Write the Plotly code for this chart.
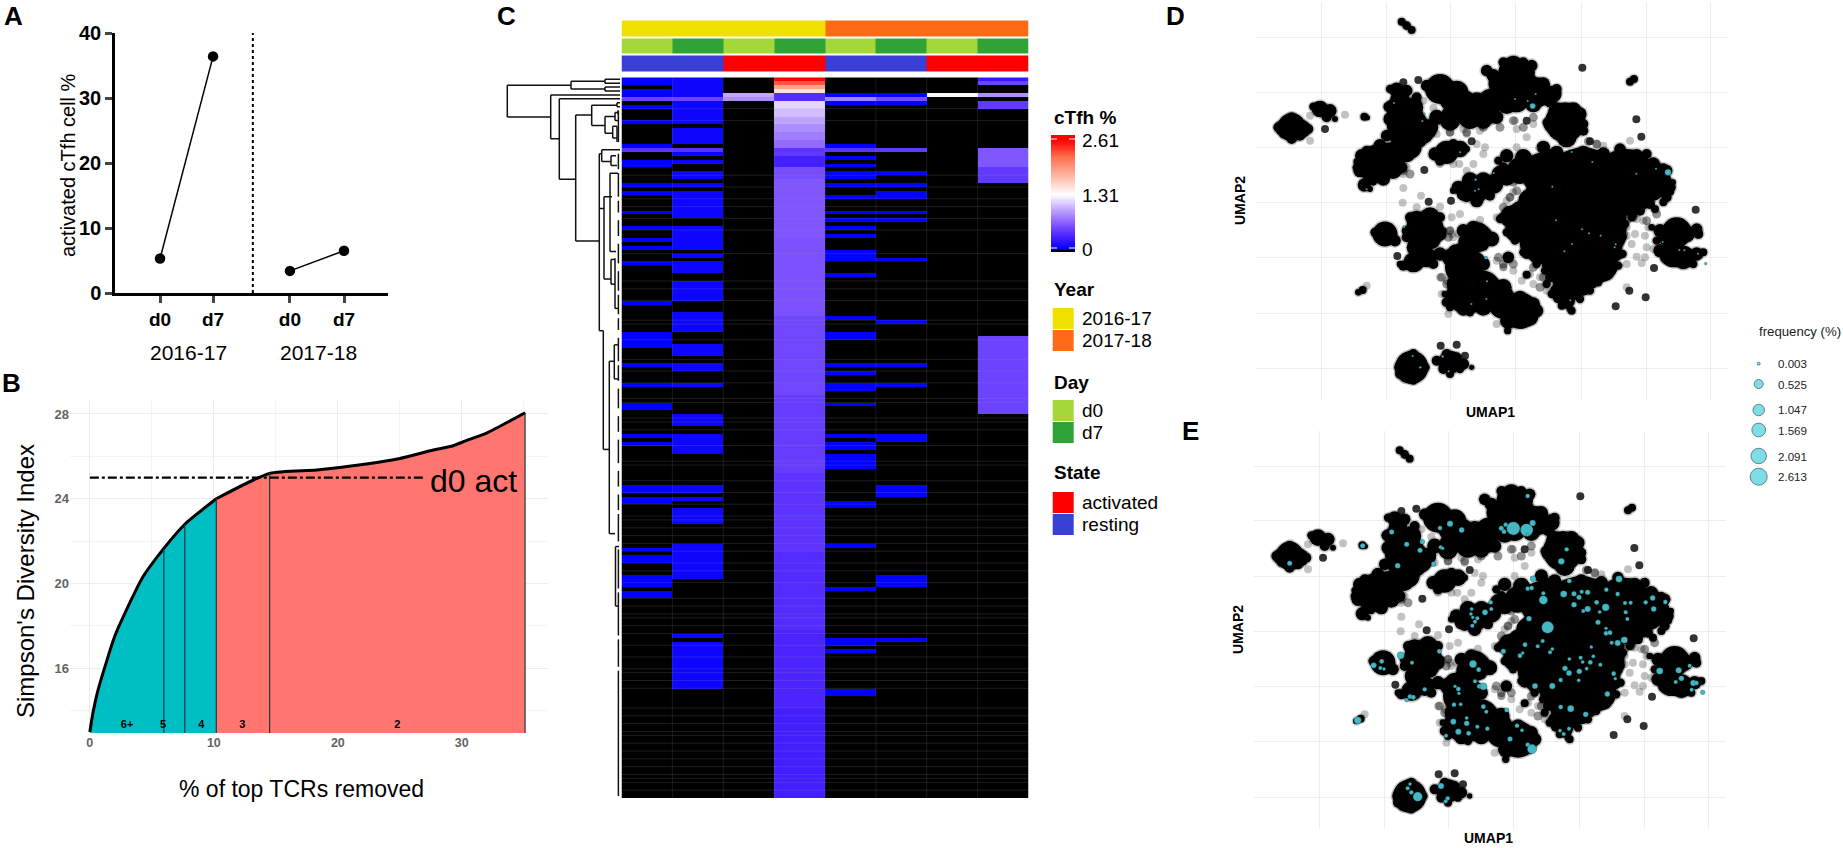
import plotly.graph_objects as go

W, H = 1843, 848

# ---------- Panel A ----------
a_positions = [1, 2, 3.45, 4.47]
a_labels = ["d0", "d7", "d0", "d7"]
a_2016 = [5.3, 36.4]
a_2017 = [3.4, 6.5]
a_divider = 2.75

# ---------- Panel B ----------
b_x_teal = [0, 0.25, 0.67, 2.0, 2.7, 4.3, 5.97, 7.66, 10.2]
b_y_teal = [13.0, 13.9, 15.0, 17.5, 18.44, 20.33, 21.66, 22.8, 24.0]
b_x_red = [10.2, 14.5, 18.3, 22.3, 25, 27.7, 29.3, 30.6, 32, 35.1]
b_y_red = [24.0, 25.2, 25.36, 25.64, 25.9, 26.3, 26.5, 26.8, 27.1, 28.06]
b_splits_x = [5.97, 7.66, 10.2, 14.5, 35.1]
b_splits_y = [21.66, 22.8, 24.0, 25.2, 28.06]
b_group_x = [3.0, 5.9, 9.0, 12.3, 24.8]
b_group_lab = ["6+", "5", "4", "3", "2"]
b_ref_y = 25.0
b_ref_end = 26.9

# ---------- Panel C ----------
years = ["2016-17", "2016-17", "2016-17", "2016-17", "2017-18", "2017-18", "2017-18", "2017-18"]
days = ["d0", "d7", "d0", "d7", "d0", "d7", "d0", "d7"]
states = ["resting", "resting", "activated", "activated", "resting", "resting", "activated", "activated"]
n_rows = 184
c1_low = [0, 1, 3, 4, 7, 11, 17, 21, 22, 27, 29, 34, 38, 41, 43, 47, 57, 65, 66, 67, 68, 73, 78, 83, 84, 91, 93,
          104, 105, 107, 108, 120, 122, 123, 127, 128, 129, 131, 132]
c2_low = [0, 1, 2, 3, 4, 6, 7, 8, 9, 10, 11, 13, 14, 15, 16, 19, 21, 24, 25, 27, 29, 30, 31, 32, 33, 34, 35, 38, 39,
          40, 41, 42, 43, 45, 47, 48, 49, 52, 53, 54, 55, 56, 60, 61, 62, 63, 64, 68, 69, 70, 73, 74, 78, 86, 87, 88,
          91, 92, 93, 94, 95, 104, 105, 107, 110, 111, 112, 113, 119, 120, 121, 122, 123, 124, 125, 126, 127, 142,
          144, 145, 146, 147, 148, 149, 150, 151, 152, 153, 154, 155]
c5_low = [4, 6, 17, 20, 22, 24, 25, 27, 30, 34, 36, 38, 40, 44, 45, 46, 50, 61, 65, 66, 73, 75, 78, 79, 83, 91, 93, 94,
          96, 97, 98, 99, 108, 109, 119, 130, 143, 144, 146, 156, 157]
c6_low = [4, 6, 24, 27, 29, 30, 34, 36, 46, 62, 73, 78, 91, 92, 104, 105, 106, 127, 128, 129, 143]
c1_special = {5: 0.5, 18: 0.42}
c2_special = {5: 0.5, 18: 0.4}
c3_special = {4: 0.95, 5: 0.85}
c5_special = {5: 0.8, 18: 0.42}
c6_special = {5: 0.55, 18: 0.45}
c7_special = {4: 1.28}
c8_special = {0: 0.25, 1: 0.5, 4: 0.85, 6: 0.45, 7: 0.45, 18: 0.6, 19: 0.6, 20: 0.6, 21: 0.6, 22: 0.6,
              23: 0.45, 24: 0.45, 25: 0.45, 26: 0.45}
c8_block = [66, 67, 68, 69, 70, 71, 72, 73, 74, 75, 76, 77, 78, 79, 80, 81, 82, 83, 84, 85]
c8_block_value = 0.5
c4_run_values = [2.61, 2.3, 1.9, 1.5, 0.38, 1.15, 1.05, 0.95, 0.85, 0.78, 0.7, 0.42, 0.45, 0.3, 0.55, 0.6, 0.58, 0.52, 0.47, 0.42, 0.38, 0.34, 0.3]
c4_run_lengths = [1, 1, 1, 1, 2, 2, 2, 2, 2, 2, 2, 1, 1, 3, 3, 15, 20, 20, 20, 20, 20, 20, 23]
row_hairlines = [8, 11, 25, 28, 31, 33, 36, 39, 45, 52, 54, 57, 62, 63, 67, 72, 75, 78, 82, 83, 87, 88, 90, 94, 98, 99,
                 103, 106, 109, 112, 113, 115, 117, 119, 121, 124, 126, 129, 133, 135, 137, 138, 140, 142, 145, 148,
                 151, 152, 154, 156, 161, 163, 165, 167, 168, 170, 172, 174, 176, 178, 179, 180, 182]

# dendrogram: height of each vertical and its row span, row of each horizontal and its height span
den_v_h = [112.7, 49, 15, 15, 69.3, 60.7, 44.3, 28.3, 3, 15, 5, 7.3, 20.7, 18.3, 9, 10, 16, 9, 5, 16.7, 10.7, 5.7, 4.5, 2, 3]
den_v_a = [1.5, 0.5, 0, 2, 4, 5, 9.1, 6.6, 6, 9.5, 8.5, 12, 19, 18, 19.5, 24, 30, 46, 45.7, 64.2, 72, 67.8, 119.3, 8, 12]
den_v_b = [9.6, 2.5, 1, 3, 15.2, 25.5, 41.3, 11.8, 7, 13.8, 10.5, 15, 64.2, 21, 22, 44, 51, 52.3, 58.5, 94.5, 116, 76.5, 134.5, 9, 16]
den_h_r = [1.5, 9.6, 0.5, 2.5, 0, 1, 2, 3, 4, 15.2, 5, 25.5, 9.1, 41.3, 6.6, 11.8, 6, 7, 9.5, 13.8, 8.5, 10.5, 12, 15,
           19, 64.2, 18, 21, 19.5, 22, 24, 44, 33, 30, 51, 46, 52.3, 58.5, 94.5, 72, 116, 67.8, 76.5, 119.3, 134.5]
den_h_a = [112.7, 112.7, 49, 49, 15, 15, 15, 15, 69.3, 69.3, 60.7, 60.7, 44.3, 44.3, 28.3, 28.3, 3, 3, 15, 15, 5, 5, 7.3, 7.3,
           20.7, 20.7, 18.3, 18.3, 9, 9, 10, 10, 20.7, 16, 16, 9, 9, 5, 16.7, 10.7, 10.7, 5.7, 5.7, 4.5, 4.5]
den_h_b = [49, 69.3, 15, 15, 0, 0, 0, 0, 0, 60.7, 0, 44.3, 28.3, 20.7, 3, 15, 0, 0, 5, 7.3, 2, 2, 3, 3,
           18.3, 16.7, 0, 9, 4, 3, 2, 4, 16, 8, 9, 5, 5, 2, 10, 5.7, 5, 1, 1, 1, 1]
den_leaf_from = [8, 19, 24, 31, 36, 42, 49, 55, 61, 66, 73, 79, 86, 92, 100, 106, 111, 120, 131, 143, 151]
den_leaf_to = [16, 23, 30, 34, 40, 47, 54, 60, 64, 72, 77, 84, 90, 98, 104, 110, 118, 130, 142, 150, 183]

# ---------- Panels D / E ----------
blob_u1 = [455, 470, 485,
           125, 100, 155, 85, 125, 125, 175,
           210, 190, 240, 230, 255,
           343, 352,
           470, 430, 415, 440, 420, 470, 500, 410, 450, 520, 480, 540,
           570, 530, 620, 650, 600,
           600, 660, 720,
           785, 710, 730, 790, 845, 830, 790, 860, 910, 720, 770, 850, 900,
           945, 990, 905, 1000, 950,
           380, 335, 330, 320, 430, 400, 360, 440, 480, 510,
           343, 360,
           590, 555, 630, 570, 610, 650,
           680, 625, 730, 650, 720,
           770, 820, 880, 920, 1000, 1060, 1110, 1160, 1210, 1250, 1260, 1250,
           880, 1000, 1130, 1210, 810, 900, 830, 1000, 780, 880, 1060, 1050, 960, 960, 1010, 900,
           1280, 1230, 1340, 1270, 1340, 1360, 1230, 1330, 1300,
           405, 375, 435,
           525, 480, 570, 500,
           490, 460, 530, 550,
           680, 640, 725, 640,
           640, 650, 600, 600, 700, 760, 810, 775, 773, 860, 700, 740, 640, 660,
           950, 925,
           485, 450, 490, 525, 490,
           600, 560, 640, 665, 600,
           325, 338,
           1140, 1152,
           775, 830]
blob_u2 = [63, 75, 88,
           380, 382, 385, 380, 352, 415, 385,
           325, 318, 330, 350, 355,
           348, 351,
           370, 320, 318, 268, 265, 270, 290, 405, 410, 400, 420, 395,
           265, 255, 275, 290, 300,
           360, 350, 340,
           215, 210, 225, 195, 195, 215, 260, 275, 280, 300, 310, 310, 300,
           365, 340, 370, 390, 410,
           490, 465, 510, 483, 510, 535, 530, 470, 440, 420,
           553, 565,
           455, 460, 445, 480, 430, 445,
           565, 560, 550, 590, 585,
           465, 470, 440, 455, 455, 460, 445, 465, 490, 510, 560, 590,
           520, 550, 530, 540, 510, 600, 660, 680, 650, 720, 720, 790, 790, 850, 830, 790,
           695, 690, 685, 760, 760, 755, 750, 790, 770,
           700, 695, 720,
           690, 650, 650, 740,
           785, 795, 770, 790,
           710, 690, 715, 740,
           800, 880, 885, 920, 860, 910, 930, 960, 990, 930, 920, 880, 925, 935,
           900, 890,
           1100, 1100, 1060, 1100, 1140,
           1085, 1080, 1090, 1100, 1120,
           875, 868,
           243, 235,
           770, 822]
blob_size = [24, 26, 24,
             85, 50, 55, 30, 35, 30, 30,
             50, 25, 40, 30, 18,
             24, 16,
             120, 50, 30, 45, 25, 35, 30, 35, 60, 60, 50, 35,
             90, 35, 70, 40, 60,
             60, 70, 60,
             80, 35, 40, 60, 35, 50, 110, 90, 50, 70, 60, 50, 40,
             120, 40, 50, 30, 60,
             115, 40, 40, 20, 50, 40, 40, 60, 70, 40,
             40, 18,
             70, 40, 50, 30, 30, 20,
             80, 40, 60, 30, 30,
             40, 50, 40, 40, 40, 40, 35, 40, 40, 35, 35, 30,
             130, 220, 170, 90, 80, 160, 130, 260, 60, 140, 120, 110, 130, 100, 60, 50,
             90, 40, 35, 80, 40, 24, 40, 25, 70,
             75, 28, 35,
             115, 30, 30, 60,
             60, 30, 60, 30,
             90, 40, 45, 40,
             110, 120, 30, 24, 100, 90, 110, 50, 22, 40, 50, 70, 40, 25,
             50, 35,
             100, 35, 30, 28, 25,
             70, 30, 35, 16, 24,
             20, 24,
             24, 24,
             35, 24]
fill_u1 = [450, 490, 420, 500, 540, 470,
           560, 600, 640, 690, 700, 740, 680, 640,
           750, 800, 740, 830, 880, 920, 790, 760, 820,
           450, 420, 470, 350, 390, 455, 320, 370,
           660, 700, 640, 680, 610, 750, 770,
           830, 900, 960, 1060, 1130, 1200, 1240, 1180, 1130, 1060, 1210, 1090, 840, 900, 1160, 1240, 1200, 1150,
           780, 760, 800, 850, 930, 940, 1070, 1100, 1110, 1100, 1080, 1030, 990, 830, 860, 1010,
           950, 920, 1000, 1030, 960, 925, 900, 1060,
           1250, 1310, 1220, 1250, 1300, 1345, 1205,
           470, 545, 540, 500, 570, 580, 470,
           500, 570, 450, 510,
           600, 620, 670, 620, 680, 700, 730, 760, 590, 625, 680, 840, 810, 850, 790, 735, 770, 585, 650,
           670, 705, 700, 670, 640,
           920, 970, 1000, 960, 920, 890,
           470, 510, 465, 450, 590, 620, 580, 630,
           100, 150, 125]
fill_u2 = [300, 320, 355, 380, 380, 410,
           350, 340, 340, 320, 360, 350, 300, 310,
           280, 300, 250, 250, 250, 265, 190, 185, 185,
           440, 450, 460, 450, 435, 500, 500, 545,
           540, 540, 580, 600, 570, 520, 530,
           490, 480, 490, 500, 480, 520, 540, 590, 610, 620, 570, 570, 600, 540, 520, 575, 610, 640,
           640, 650, 690, 730, 640, 720, 680, 650, 720, 760, 790, 780, 760, 760, 770, 830,
           830, 870, 860, 850, 925, 820, 830, 810,
           710, 700, 720, 770, 790, 700, 680,
           690, 720, 650, 660, 700, 690, 710,
           790, 760, 790, 760,
           770, 760, 830, 850, 780, 790, 850, 860, 905, 900, 900, 950, 890, 910, 945, 920, 880, 880, 800,
           680, 700, 735, 745, 720,
           330, 330, 370, 400, 400, 365,
           1080, 1120, 1130, 1120, 1060, 1070, 1105, 1105,
           400, 405, 370]
fill_size = [60, 60, 40, 80, 50, 70,
             45, 50, 60, 60, 50, 40, 50, 50,
             70, 70, 50, 70, 40, 30, 45, 30, 30,
             60, 50, 50, 30, 40, 35, 25, 20,
             50, 50, 40, 40, 20, 50, 50,
             60, 70, 80, 90, 60, 90, 50, 70, 70, 130, 60, 100, 70, 110, 100, 30, 30, 25,
             50, 30, 70, 80, 150, 120, 90, 50, 30, 40, 30, 90, 130, 30, 40, 50,
             90, 40, 50, 25, 20, 50, 30, 40,
             50, 50, 25, 40, 30, 30, 20,
             30, 50, 60, 60, 40, 20, 30,
             40, 40, 20, 40,
             50, 60, 70, 60, 50, 40, 40, 50, 30, 50, 70, 50, 40, 40, 60, 30, 40, 20, 50,
             40, 40, 30, 40, 30,
             50, 50, 30, 30, 30, 25,
             40, 30, 30, 30, 30, 30, 30, 25,
             25, 30, 60]
edge_u1 = [745, 760, 1190, 1240, 1268, 1262, 1240, 1215, 1170, 1145, 1125, 1118, 1118, 1105, 1075, 1045, 1020, 990, 965, 935, 905, 890, 885, 860, 820, 795, 770, 750,
           1000, 1100, 1170, 1220, 1150, 1100, 1040, 950, 860, 820, 900, 1000, 1090]
edge_u2 = [480, 500, 460, 500, 545, 575, 605, 625, 630, 650, 670, 710, 760, 795, 825, 845, 870, 895, 930, 915, 880, 850, 810, 790, 755, 720, 695, 655,
           480, 480, 500, 560, 590, 640, 560, 600, 640, 700, 760, 730, 740]
edge_size = [25, 30, 30, 25, 20, 20, 24, 24, 30, 25, 25, 25, 25, 25, 25, 25, 25, 25, 24, 24, 25, 25, 25, 25, 25, 25, 25, 25,
             60, 60, 60, 40, 60, 60, 90, 90, 60, 40, 60, 80, 50]
mid_u1 = [600, 650, 700, 750, 790, 820, 850, 760, 780, 800, 790, 1150, 1190, 1130, 1220, 600, 595, 745, 760, 790, 850, 880, 870, 575, 590, 1120, 480, 460, 1040, 1015]
mid_u2 = [395, 395, 380, 380, 360, 380, 350, 620, 590, 570, 545, 650, 660, 660, 640, 690, 710, 770, 790, 790, 800, 830, 860, 830, 850, 700, 520, 510, 430, 422]
dark_u1 = [997, 1159, 1174, 1337, 1212, 1138, 1187, 1097, 536, 523, 603, 460, 505, 225, 572, 620, 645, 442, 1020, 830, 665]
dark_u2 = [201, 356, 408, 627, 802, 870, 890, 917, 603, 508, 600, 245, 238, 385, 1035, 1032, 1065, 766, 422, 360, 422]
gray_u1 = [285, 180, 180, 350, 460, 458, 513, 500, 570, 630, 605, 690, 650, 628, 670, 700, 680, 705, 800, 795, 850, 800, 830, 1140, 1040, 1060,
           1130, 1175, 1160, 1185, 1145, 1190, 1130, 1180, 1120, 1160, 1185, 1130, 1155, 1210, 1130, 740, 595, 575, 570, 590, 740, 760, 840, 870,
           890, 600, 610, 740, 770, 790, 780, 590, 550, 520, 640, 600, 560, 650, 690, 470, 460, 570, 610, 605, 625, 760, 790, 815, 850, 1195]
gray_u2 = [342, 345, 420, 855, 562, 606, 585, 620, 618, 640, 650, 658, 510, 490, 490, 460, 430, 440, 440, 360, 370, 385, 410, 420, 430, 435,
           790, 787, 768, 770, 730, 740, 680, 660, 680, 655, 705, 705, 700, 745, 860, 970, 940, 880, 830, 840, 780, 800, 820, 830,
           870, 690, 710, 650, 600, 575, 590, 315, 322, 300, 385, 395, 400, 400, 390, 500, 520, 490, 490, 700, 700, 800, 810, 840, 850, 680]
d_u1 = [432, 523, 517, 630, 350, 795, 833, 857, 860, 965, 1027, 1159, 1218, 731, 677, 675, 686, 907, 918, 996, 1017, 1052, 966, 943, 1097, 1094,
        1238, 1288, 1303, 1344, 1367, 708, 711, 709, 664, 961, 462, 488, 578, 511, 596, 848, 1254]
d_u2 = [307, 339, 361, 455, 566, 295, 301, 280, 443, 454, 484, 519, 504, 517, 537, 570, 566, 558, 659, 686, 698, 705, 730, 752, 731, 740,
        724, 748, 749, 759, 789, 771, 842, 895, 910, 899, 678, 1066, 1067, 1100, 1112, 316, 515]
d_size = [6, 6, 6, 6, 6, 6, 6, 6, 6, 6, 6, 6, 6, 6, 7, 6, 6, 6, 6, 6, 6, 6, 6, 6, 6, 6,
          6, 6, 6, 6, 8, 10, 6, 6, 6, 6, 7, 6, 7, 7, 6, 17, 19]
e_u1 = [119, 338, 425, 470, 517, 510, 443, 551, 600, 570, 635, 572, 578, 754, 767, 762, 790, 830, 848, 833, 833, 950, 934, 849, 958, 833, 845, 880, 880, 941,
        972, 995, 1013, 987, 972, 1040, 1067, 1069, 1103, 1107, 1125, 1142, 1127, 1132, 1187, 1208, 1211, 1246, 1049, 1000, 1013, 1044, 1068, 1068, 1080, 1085, 1103, 1123, 893, 837,
        722, 724, 705, 665, 663, 668, 682, 675, 667, 825, 878, 863, 810, 818, 907, 900, 760, 1024, 958, 992, 998, 1030, 1021, 1051, 1010, 988, 945, 957, 986, 932,
        907, 855, 1091, 1096, 1072, 932, 962, 1007, 770, 1229, 1286, 1319, 1294, 1277, 1330, 1339, 1325, 1358, 568, 486, 452, 395, 371, 391, 402, 669, 686, 675, 688, 700,
        524, 470, 480, 490, 615, 625, 627, 612, 632, 700, 709, 650, 650, 610, 682, 712, 625, 588, 656, 801, 816, 780, 930, 957, 941, 833, 846, 323, 473, 484, 503, 480, 573, 593, 587]
e_u2 = [398, 345, 304, 341, 333, 359, 405, 400, 279, 292, 298, 350, 353, 293, 282, 303, 293, 298, 277, 196, 312, 356, 392, 444, 451, 474, 472, 488, 508, 490,
        489, 483, 485, 500, 522, 515, 530, 477, 490, 445, 517, 516, 545, 565, 515, 502, 535, 514, 544, 541, 535, 575, 593, 608, 606, 636, 637, 628, 590, 564,
        515, 535, 545, 535, 550, 560, 563, 573, 585, 642, 631, 647, 675, 667, 655, 665, 662, 649, 685, 681, 694, 677, 695, 702, 714, 722, 713, 727, 749, 748,
        766, 766, 729, 744, 790, 829, 834, 851, 838, 721, 719, 705, 743, 754, 757, 757, 777, 785, 662, 696, 674, 692, 704, 712, 715, 700, 717, 752, 767, 767,
        776, 808, 798, 800, 767, 775, 788, 822, 821, 828, 843, 862, 878, 873, 888, 894, 903, 915, 908, 885, 899, 925, 900, 894, 910, 942, 955, 869, 1073, 1085, 1098, 1060, 1066, 1103, 1112]
e_size = [15, 15, 15, 15, 15, 15, 16, 15, 18, 13, 16, 12, 10, 15, 13, 14, 40, 38, 18, 13, 10, 13, 19, 18, 14, 13, 13, 12, 26, 20,
          15, 12, 15, 15, 16, 14, 22, 13, 13, 20, 12, 12, 12, 12, 13, 16, 16, 13, 11, 12, 18, 15, 10, 14, 14, 12, 18, 20, 36, 16,
          13, 12, 17, 11, 11, 10, 12, 12, 12, 14, 12, 12, 14, 10, 11, 12, 15, 10, 11, 12, 11, 11, 14, 12, 11, 16, 16, 17, 11, 13,
          18, 17, 14, 10, 16, 14, 20, 16, 14, 20, 18, 12, 16, 12, 18, 14, 12, 14, 14, 12, 22, 14, 17, 12, 10, 22, 14, 12, 14, 22,
          13, 12, 14, 14, 10, 14, 10, 13, 11, 14, 12, 11, 16, 17, 12, 13, 18, 12, 14, 13, 11, 15, 11, 12, 12, 13, 28, 22, 12, 13, 28, 10, 18, 13, 12]
e_shift = (6, 4)
grid_u1 = [18, 214, 408, 602, 797, 993, 1188, 1381]
grid_u2 = [110, 274, 440, 606, 771, 937, 1103]
freq_values = ["0.003", "0.525", "1.047", "1.569", "2.091", "2.613"]
freq_px = [363.7, 384, 410, 430, 456, 476.7]
freq_d = [3, 9, 11.5, 13.7, 15.5, 17]

FONT = "Liberation Sans"


def fx(px):
    return px / W


def fy(px):
    return 1 - px / H


def dom_x(a, b):
    return [fx(a), fx(b)]


def dom_y(top, bottom):
    return [fy(bottom), fy(top)]


fig = go.Figure()
anns = []
shapes = []


def text(x, y, s, size, bold=False, color="black", anchor="left", angle=0):
    anns.append(dict(x=fx(x), y=fy(y), xref="paper", yref="paper", text=f"<b>{s}</b>" if bold else s, showarrow=False,
                     xanchor=anchor, yanchor="middle", textangle=angle, font=dict(family=FONT, size=size, color=color)))


def rect(x0, y0, x1, y1, color):
    shapes.append(dict(type="rect", xref="paper", yref="paper", x0=fx(x0), x1=fx(x1), y0=fy(y0), y1=fy(y1),
                       fillcolor=color, line=dict(width=0)))


hidden = dict(visible=False, showgrid=False, zeroline=False)
layout_axes = {}

# ---------- A ----------
for xs, ys in ((a_positions[:2], a_2016), (a_positions[2:], a_2017)):
    fig.add_trace(go.Scatter(x=xs, y=ys, mode="lines+markers", xaxis="x", yaxis="y", line=dict(color="black", width=1.5),
                             marker=dict(color="black", size=10.5)))
fig.add_trace(go.Scatter(x=[a_divider, a_divider], y=[0, 40], mode="lines", xaxis="x", yaxis="y",
                         line=dict(color="black", width=2, dash="dot")))
layout_axes["xaxis"] = dict(domain=dom_x(115, 388), range=[0.15, 5.3], anchor="y", tickvals=a_positions, ticktext=a_labels,
                            showline=True, linecolor="black", linewidth=2.5, ticks="outside", ticklen=7, tickwidth=2.5,
                            showgrid=False, zeroline=False, tickfont=dict(family=FONT, size=19, weight="bold", color="black"))
layout_axes["yaxis"] = dict(domain=dom_y(33, 293), range=[0, 40], anchor="x", tickvals=[0, 10, 20, 30, 40],
                            showline=True, linecolor="black", linewidth=2.5, ticks="outside", ticklen=7, tickwidth=2.5,
                            showgrid=False, zeroline=False, tickfont=dict(family=FONT, size=20, weight="bold", color="black"))
text(188, 352, "2016-17", 21, anchor="center")
text(318, 352, "2017-18", 21, anchor="center")
text(68, 165, "activated cTfh cell %", 20, anchor="center", angle=-90)

# ---------- B ----------
curve_line = dict(color="black", width=3, shape="spline", smoothing=0.6)
fig.add_trace(go.Scatter(x=b_x_teal, y=b_y_teal, mode="lines", fill="tozeroy", fillcolor="#00bfc4", xaxis="x2", yaxis="y2", line=curve_line))
fig.add_trace(go.Scatter(x=b_x_red, y=b_y_red, mode="lines", fill="tozeroy", fillcolor="#ff7570", xaxis="x2", yaxis="y2", line=curve_line))
split_x, split_y = [], []
for sx, sy in zip(b_splits_x, b_splits_y):
    split_x += [sx, sx, None]
    split_y += [0, sy, None]
fig.add_trace(go.Scatter(x=split_x, y=split_y, mode="lines", xaxis="x2", yaxis="y2", line=dict(color="#1c3a40", width=1.2)))
fig.add_trace(go.Scatter(x=[0, b_ref_end], y=[b_ref_y, b_ref_y], mode="lines", xaxis="x2", yaxis="y2",
                         line=dict(color="black", width=2.2, dash="dashdot")))
fig.add_trace(go.Scatter(x=b_group_x, y=[13.3] * 5, mode="text", text=b_group_lab, xaxis="x2", yaxis="y2",
                         textfont=dict(family=FONT, size=11, color="black", weight="bold")))
grid = "#ececec"
layout_axes["xaxis2"] = dict(domain=dom_x(70, 548), range=[-1.6, 36.95], anchor="y2", tickvals=[0, 10, 20, 30],
                             minor=dict(tickvals=[5, 15, 25, 35], showgrid=True, gridcolor="#f4f4f4", gridwidth=1),
                             showgrid=True, gridcolor=grid, gridwidth=1, zeroline=False, ticks="",
                             tickfont=dict(family=FONT, size=12.5, weight="bold", color="#636363"))
layout_axes["yaxis2"] = dict(domain=dom_y(400, 733), range=[12.95, 28.66], anchor="x2", tickvals=[16, 20, 24, 28],
                             minor=dict(tickvals=[14, 18, 22, 26], showgrid=True, gridcolor="#f4f4f4", gridwidth=1),
                             showgrid=True, gridcolor=grid, gridwidth=1, zeroline=False, ticks="",
                             tickfont=dict(family=FONT, size=13, weight="bold", color="#636363"))
text(428, 481, "d0 act", 32)
text(25, 581, "Simpson's Diversity Index", 24, anchor="center", angle=-90)
text(301, 789, "% of top TCRs removed", 23, anchor="center")

# ---------- C ----------
rows = [[0.0] * 8 for _ in range(n_rows)]
for col, low, level in ((0, c1_low, 0.02), (1, c2_low, 0.07), (4, c5_low, 0.02), (5, c6_low, 0.03)):
    for r in low:
        rows[r][col] = level
for col, spec in ((0, c1_special), (1, c2_special), (2, c3_special), (4, c5_special), (5, c6_special), (6, c7_special), (7, c8_special)):
    for r, v in spec.items():
        rows[r][col] = v
for r in c8_block:
    rows[r][7] = c8_block_value
pos = 0
for v, n in zip(c4_run_values, c4_run_lengths):
    for r in range(pos, pos + n):
        rows[r][3] = v
    pos += n
ZMIN, ZMAX = -0.05, 2.73


def nrm(v):
    return (v - ZMIN) / (ZMAX - ZMIN)


cscale = [[0, "#000000"], [nrm(0.001), "#000000"], [nrm(0.015), "#0000ff"], [nrm(0.33), "#4a22ff"], [nrm(0.65), "#8a60ff"],
          [nrm(1.0), "#c8b0ff"], [nrm(1.31), "#ffffff"], [nrm(1.7), "#ffc0b0"], [nrm(2.2), "#ff7050"], [nrm(2.61), "#ff0000"], [1, "#ff0000"]]
fig.add_trace(go.Heatmap(z=rows, x=list(range(8)), y=list(range(n_rows)), xaxis="x3", yaxis="y3", zmin=ZMIN, zmax=ZMAX, colorscale=cscale,
                         showscale=False, hoverinfo="skip"))
hx, hy = [], []
for r in row_hairlines:
    hx += [-0.5, 7.5, None]
    hy += [r - 0.5, r - 0.5, None]
fig.add_trace(go.Scatter(x=hx, y=hy, mode="lines", xaxis="x3", yaxis="y3", line=dict(color="rgba(150,150,150,0.28)", width=0.7)))
vx, vy = [], []
for c in range(1, 8):
    vx += [c - 0.5, c - 0.5, None]
    vy += [-0.5, n_rows - 0.5, None]
fig.add_trace(go.Scatter(x=vx, y=vy, mode="lines", xaxis="x3", yaxis="y3", line=dict(color="rgba(150,150,150,0.22)", width=0.8)))
layout_axes["xaxis3"] = dict(domain=dom_x(621.5, 1028.5), range=[-0.5, 7.5], anchor="y3", **hidden)
layout_axes["yaxis3"] = dict(domain=dom_y(77.33, 798), range=[n_rows - 0.5, -0.5], anchor="x3", **hidden)

year_codes = [{"2016-17": 0, "2017-18": 1}[v] for v in years]
day_codes = [{"d0": 2, "d7": 3}[v] for v in days]
state_codes = [{"activated": 4, "resting": 5}[v] for v in states]
bar_colors = ["#f0e000", "#ff6a14", "#a3d838", "#2fa336", "#ff0000", "#3a3fd8"]
bar_scale = []
for i, c in enumerate(bar_colors):
    bar_scale += [[i / 6, c], [(i + 1) / 6, c]]
fig.add_trace(go.Heatmap(z=[year_codes, day_codes, state_codes], xaxis="x4", yaxis="y4", zmin=0, zmax=6, colorscale=bar_scale, showscale=False,
                         ygap=2, hoverinfo="skip"))
layout_axes["xaxis4"] = dict(domain=dom_x(621.5, 1028.5), range=[-0.5, 7.5], anchor="y4", **hidden)
layout_axes["yaxis4"] = dict(domain=dom_y(19.5, 72.5), range=[2.5, -0.5], anchor="x4", **hidden)

dx, dy = [], []
for h, a, b in zip(den_v_h, den_v_a, den_v_b):
    dx += [h, h, None]
    dy += [a, b, None]
for r, a, b in zip(den_h_r, den_h_a, den_h_b):
    dx += [a, b, None]
    dy += [r, r, None]
for a, b in zip(den_leaf_from, den_leaf_to):
    dx += [1.6, 1.6, None]
    dy += [a, b, None]
fig.add_trace(go.Scatter(x=dx, y=dy, mode="lines", xaxis="x5", yaxis="y5", line=dict(color="#111111", width=1.5)))
layout_axes["xaxis5"] = dict(domain=dom_x(500, 621), range=[120, -1], anchor="y5", **hidden)
layout_axes["yaxis5"] = dict(domain=dom_y(77.33, 798), range=[n_rows - 0.5, -0.5], anchor="x5", **hidden)

# colour key for C, drawn with the same colour scale
key_levels = [[ZMIN + i * (ZMAX - ZMIN) / 139] for i in range(140)]
fig.add_trace(go.Heatmap(z=key_levels, y=[row[0] for row in key_levels], xaxis="x8", yaxis="y8", zmin=ZMIN, zmax=ZMAX, colorscale=cscale,
                         showscale=False, hoverinfo="skip"))
layout_axes["xaxis8"] = dict(domain=dom_x(1051, 1075), anchor="y8", **hidden)
layout_axes["yaxis8"] = dict(domain=dom_y(135, 252), range=[ZMIN, ZMAX], anchor="x8", **hidden)
for lab, py in (("2.61", 140), ("1.31", 195), ("0", 250)):
    text(1080, py, lab, 19)
for py in (139, 248):
    rect(1051, py - 0.5, 1057, py + 0.5, "white")
    rect(1069, py - 0.5, 1075, py + 0.5, "white")

text(1052, 118, "cTfh %", 19, bold=True)
for title, ty, labels, colors, y0s in (
    ("Year", 289, ["2016-17", "2017-18"], bar_colors[:2], [308, 330]),
    ("Day", 382, ["d0", "d7"], bar_colors[2:4], [400, 422]),
    ("State", 473, ["activated", "resting"], bar_colors[4:], [492, 514]),
):
    text(1052, ty, title, 19, bold=True)
    for lab, col, y0 in zip(labels, colors, y0s):
        rect(1052.7, y0, 1073.7, y0 + 21, col)
        text(1080, y0 + 10.5, lab, 19)

# ---------- D / E ----------
all_u1 = blob_u1 + fill_u1 + edge_u1
all_u2 = blob_u2 + fill_u2 + edge_u2
all_size = blob_size + fill_size + edge_size
for xa, ya, left, top, tu1, tu2, ts, tcol in (
    ("x6", "y6", 1256, 2, d_u1, d_u2, d_size, "#45b8c4"),
    ("x7", "y7", 1254, 430.7, [v + e_shift[0] for v in e_u1], [v + e_shift[1] for v in e_u2], e_size, "#45b8c4"),
):
    fig.add_trace(go.Scatter(x=gray_u1, y=gray_u2, mode="markers", xaxis=xa, yaxis=ya, marker=dict(color="black", size=8, opacity=0.24, line=dict(width=0))))
    fig.add_trace(go.Scatter(x=mid_u1, y=mid_u2, mode="markers", xaxis=xa, yaxis=ya, marker=dict(color="black", size=9, opacity=0.42, line=dict(width=0))))
    fig.add_trace(go.Scatter(x=all_u1, y=all_u2, mode="markers", xaxis=xa, yaxis=ya,
                             marker=dict(color="black", size=[s / 3 + 3 for s in all_size], opacity=0.2, line=dict(width=0))))
    fig.add_trace(go.Scatter(x=dark_u1, y=dark_u2, mode="markers", xaxis=xa, yaxis=ya, marker=dict(color="black", size=8, opacity=0.8, line=dict(width=0))))
    fig.add_trace(go.Scatter(x=all_u1, y=all_u2, mode="markers", xaxis=xa, yaxis=ya,
                             marker=dict(color="black", size=[s / 3 for s in all_size], opacity=1, line=dict(width=0))))
    fig.add_trace(go.Scatter(x=tu1, y=tu2, mode="markers", xaxis=xa, yaxis=ya,
                             marker=dict(color=tcol, size=[s / 3 for s in ts], opacity=1, line=dict(width=0.3, color="#0a3a40"))))
    axis_n = xa[1:]
    common = dict(showgrid=True, gridcolor="#eeeeee", gridwidth=1.3, zeroline=False, showticklabels=False, ticks="")
    layout_axes["xaxis" + axis_n] = dict(domain=dom_x(left, left + 472), range=[18, 1434], anchor=ya, tickvals=grid_u1, **common)
    layout_axes["yaxis" + axis_n] = dict(domain=dom_y(top, top + 398), range=[1198, 4], anchor=xa, tickvals=grid_u2, **common)
text(1240, 201, "UMAP2", 14, bold=True, anchor="center", angle=-90)
text(1238, 630, "UMAP2", 14, bold=True, anchor="center", angle=-90)
text(1490.7, 412, "UMAP1", 14, bold=True, anchor="center")
text(1488, 838, "UMAP1", 14, bold=True, anchor="center")

# frequency legend
text(1757, 331, "frequency (%)", 13.2, color="#222222")
for lab, py, d in zip(freq_values, freq_px, freq_d):
    shapes.append(dict(type="circle", xref="paper", yref="paper", x0=fx(1758.7 - d / 2), x1=fx(1758.7 + d / 2), y0=fy(py + d / 2), y1=fy(py - d / 2),
                       fillcolor="#7fdde6", line=dict(color="#4a6a70", width=0.8)))
    text(1776, py, lab, 11.6, color="#222222")

# panel letters
for s, x, y in (("A", 13, 16), ("B", 11, 383), ("C", 506, 16), ("D", 1175, 16), ("E", 1190, 431)):
    text(x, y, s, 26, bold=True, anchor="center")

fig.update_layout(width=W, height=H, autosize=False, margin=dict(l=0, r=0, t=0, b=0, autoexpand=False), paper_bgcolor="white", plot_bgcolor="rgba(0,0,0,0)",
                  showlegend=False, annotations=anns, shapes=shapes, font=dict(family=FONT), **layout_axes)
fig.write_html("out.html", config={"displayModeBar": False, "responsive": False},
               post_script="document.body.style.margin='0';document.documentElement.style.overflow='hidden';")
